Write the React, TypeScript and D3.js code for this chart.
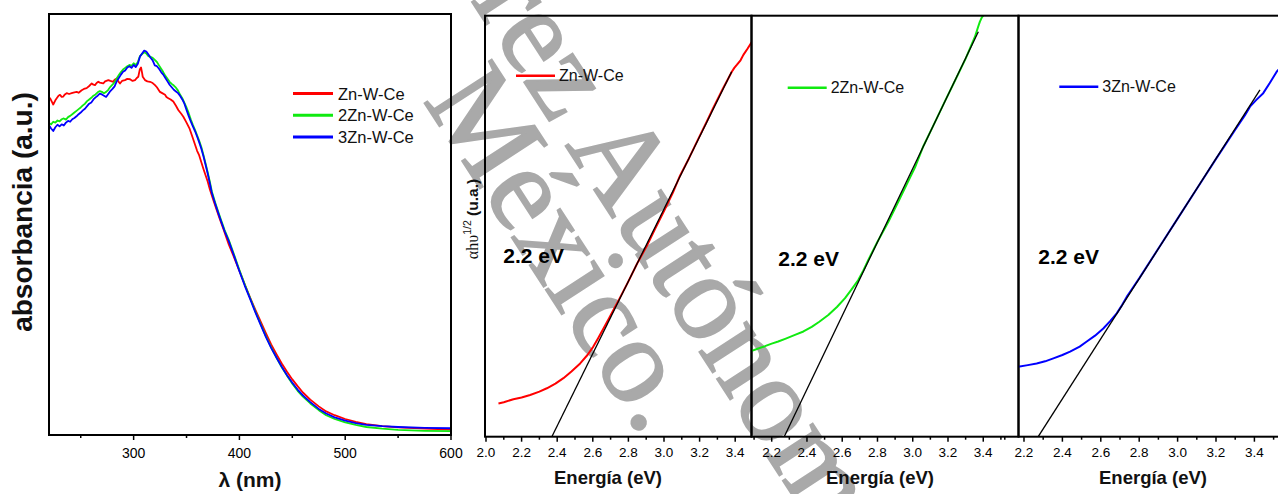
import React, { useEffect } from 'react';
import * as d3 from 'd3';

const W = 1278;
const H = 494;

// UV-Vis diffuse reflectance absorbance: [wavelength (nm), absorbance (a.u.)]
const absZnWCe: [number, number][] = [
  [220, 0.8], [221, 0.8], [223, 0.79], [224, 0.785], [226, 0.795], [227.3, 0.8], [229, 0.806], [230.4, 0.808],
  [232, 0.803], [233.5, 0.804], [235, 0.809], [236.7, 0.812], [239, 0.81], [241.4, 0.812], [244, 0.814],
  [246.2, 0.815], [248, 0.813], [250.9, 0.819], [253, 0.822], [255.6, 0.824], [258, 0.829], [260.4, 0.835],
  [262, 0.832], [263.5, 0.831], [265, 0.836], [266.6, 0.839], [268, 0.837], [271.3, 0.835], [273, 0.84],
  [276.1, 0.843], [278, 0.841], [280.8, 0.839], [282, 0.844], [284, 0.847], [285.5, 0.84], [287.1, 0.835],
  [289, 0.841], [291.8, 0.843], [294, 0.846], [296.6, 0.845], [299, 0.841], [301.3, 0.843], [303, 0.848],
  [304.4, 0.851], [305.8, 0.868], [307, 0.873], [308, 0.86], [308.6, 0.851], [310.7, 0.843], [313, 0.84],
  [315.5, 0.839], [318, 0.836], [320.2, 0.831], [322, 0.826], [324.9, 0.815], [327, 0.812], [329.7, 0.808],
  [331, 0.803], [332.8, 0.8], [335, 0.797], [337.5, 0.792], [340, 0.782], [342.2, 0.772], [345, 0.763],
  [347, 0.756], [350, 0.742], [353, 0.727], [356, 0.705], [358, 0.69], [360, 0.675], [362, 0.664], [364, 0.648],
  [366, 0.632], [368, 0.617], [370, 0.602], [372, 0.584], [375.3, 0.558], [378, 0.538], [381, 0.516],
  [385, 0.488], [390, 0.452], [394, 0.428], [400, 0.39], [405, 0.358], [410, 0.327], [415, 0.298], [420, 0.27],
  [425, 0.242], [430, 0.215], [435, 0.192], [440, 0.17], [445, 0.15], [450, 0.132], [455, 0.116], [460, 0.101],
  [467, 0.084], [475, 0.068], [482, 0.056], [490, 0.047], [500, 0.038], [510, 0.031], [520, 0.026],
  [535, 0.021], [550, 0.018], [575, 0.015], [600, 0.013],
];

const abs2ZnWCe: [number, number][] = [
  [220, 0.741], [222, 0.738], [224, 0.744], [226, 0.742], [228, 0.747], [230, 0.745], [232, 0.75], [234, 0.752],
  [236, 0.749], [238, 0.755], [240, 0.758], [242, 0.762], [244, 0.766], [246, 0.77], [248, 0.774], [250, 0.778],
  [252, 0.783], [254, 0.787], [256, 0.793], [258, 0.797], [260, 0.801], [262, 0.806], [264, 0.809], [266, 0.814],
  [268, 0.817], [270, 0.815], [272, 0.812], [274, 0.815], [276, 0.82], [278, 0.827], [280, 0.832], [282, 0.838],
  [284, 0.847], [286, 0.855], [288, 0.862], [290, 0.868], [292, 0.872], [294, 0.876], [296, 0.879], [298, 0.877],
  [300, 0.883], [302, 0.879], [304, 0.886], [306, 0.9], [308, 0.905], [310, 0.909], [312, 0.906], [314, 0.9],
  [316, 0.898], [318, 0.896], [320, 0.891], [322, 0.886], [324, 0.878], [326, 0.87], [328, 0.862], [330, 0.853],
  [332, 0.846], [334, 0.839], [336, 0.834], [338, 0.83], [340, 0.825], [342, 0.818], [344, 0.808], [346, 0.8],
  [348, 0.789], [350, 0.778], [352, 0.765], [354, 0.75], [356, 0.737], [358, 0.725], [360, 0.712], [362, 0.699],
  [364, 0.684], [366, 0.665], [368, 0.645], [370, 0.624], [372, 0.602], [374, 0.578], [377, 0.553], [380, 0.53],
  [383, 0.508], [386, 0.487], [390, 0.463], [395, 0.428], [400, 0.392], [405, 0.358], [410, 0.326], [415, 0.294],
  [420, 0.264], [425, 0.235], [430, 0.208], [435, 0.184], [440, 0.161], [445, 0.141], [450, 0.122], [455, 0.105],
  [460, 0.091], [467, 0.075], [475, 0.059], [482, 0.047], [490, 0.038], [500, 0.03], [510, 0.024], [520, 0.019],
  [535, 0.015], [550, 0.012], [575, 0.01], [600, 0.009],
];

const abs3ZnWCe: [number, number][] = [
  [220, 0.736], [222, 0.728], [224, 0.722], [226, 0.731], [228, 0.737], [230, 0.733], [232, 0.738], [234, 0.735],
  [236, 0.742], [238, 0.746], [240, 0.744], [242, 0.75], [244, 0.753], [246, 0.757], [248, 0.762], [250, 0.766],
  [252, 0.771], [254, 0.775], [256, 0.781], [258, 0.787], [260, 0.79], [262, 0.797], [264, 0.802], [266, 0.806],
  [268, 0.811], [270, 0.809], [272, 0.806], [274, 0.803], [276, 0.81], [278, 0.817], [280, 0.822], [282, 0.828],
  [284, 0.84], [286, 0.848], [288, 0.856], [290, 0.863], [292, 0.866], [294, 0.873], [296, 0.876], [298, 0.872],
  [300, 0.879], [302, 0.874], [304, 0.882], [306, 0.899], [308, 0.906], [310, 0.913], [312, 0.911], [314, 0.904],
  [316, 0.896], [318, 0.89], [320, 0.878], [322, 0.876], [324, 0.87], [326, 0.862], [328, 0.856], [330, 0.848],
  [332, 0.84], [334, 0.832], [336, 0.826], [338, 0.82], [340, 0.816], [342, 0.812], [344, 0.805], [346, 0.797],
  [348, 0.787], [350, 0.772], [352, 0.758], [354, 0.745], [356, 0.733], [358, 0.722], [360, 0.709], [362, 0.695],
  [364, 0.68], [366, 0.662], [368, 0.642], [370, 0.621], [372, 0.598], [374, 0.574], [377, 0.55], [380, 0.527],
  [383, 0.505], [386, 0.484], [390, 0.46], [395, 0.425], [400, 0.389], [405, 0.355], [410, 0.324], [415, 0.292],
  [420, 0.262], [425, 0.233], [430, 0.207], [435, 0.184], [440, 0.162], [445, 0.142], [450, 0.124], [455, 0.108],
  [460, 0.094], [467, 0.078], [475, 0.062], [482, 0.051], [490, 0.042], [500, 0.034], [510, 0.028], [520, 0.024],
  [535, 0.021], [550, 0.019], [575, 0.017], [600, 0.016],
];

const seriesNames = ['Zn-W-Ce', '2Zn-W-Ce', '3Zn-W-Ce'];
const seriesColors = ['#ff0000', '#10ea10', '#0000ff'];

const wavelengthTicks = [300, 400, 500, 600];
const wavelengthMinorTicks = [250, 350, 450, 550];

// Tauc plots: [photon energy (eV), (alpha h nu)^1/2 (a.u.)]
const taucZnWCe: [number, number][] = [
  [2.07, 0.079], [2.1, 0.082], [2.154, 0.089], [2.2, 0.093], [2.248, 0.099], [2.3, 0.107], [2.342, 0.115],
  [2.39, 0.126], [2.435, 0.139], [2.48, 0.155], [2.529, 0.174], [2.57, 0.194], [2.603, 0.214], [2.63, 0.234],
  [2.66, 0.257], [2.69, 0.28], [2.716, 0.301], [2.75, 0.328], [2.8, 0.369], [2.85, 0.412], [2.903, 0.453],
  [2.95, 0.494], [3.0, 0.536], [3.05, 0.58], [3.09, 0.62], [3.14, 0.661], [3.19, 0.705], [3.24, 0.748],
  [3.278, 0.782], [3.33, 0.826], [3.381, 0.867], [3.395, 0.876], [3.409, 0.883], [3.43, 0.894], [3.446, 0.907],
  [3.47, 0.922], [3.494, 0.938],
];
const tauc2ZnWCe: [number, number][] = [
  [2.087, 0.204], [2.12, 0.209], [2.162, 0.215], [2.2, 0.221], [2.237, 0.226], [2.28, 0.233], [2.332, 0.242],
  [2.38, 0.25], [2.427, 0.261], [2.47, 0.273], [2.521, 0.289], [2.57, 0.308], [2.616, 0.329], [2.65, 0.348],
  [2.691, 0.372], [2.72, 0.395], [2.748, 0.42], [2.8, 0.463], [2.861, 0.51], [2.92, 0.56], [2.97, 0.603],
  [3.013, 0.64], [3.06, 0.69], [3.12, 0.742], [3.183, 0.797], [3.24, 0.846], [3.3, 0.898], [3.353, 0.95],
  [3.362, 0.962], [3.372, 0.975], [3.381, 0.986], [3.392, 0.996], [3.4, 1.0],
];
const tauc3ZnWCe: [number, number][] = [
  [2.17, 0.166], [2.22, 0.17], [2.266, 0.174], [2.31, 0.179], [2.353, 0.186], [2.4, 0.194], [2.44, 0.202],
  [2.49, 0.214], [2.527, 0.226], [2.57, 0.24], [2.613, 0.257], [2.65, 0.275], [2.683, 0.293], [2.71, 0.312],
  [2.735, 0.332], [2.76, 0.349], [2.8, 0.376], [2.9, 0.447], [3.0, 0.518], [3.1, 0.589], [3.2, 0.66],
  [3.3, 0.729], [3.35, 0.763], [3.377, 0.784], [3.41, 0.8], [3.446, 0.816], [3.48, 0.84], [3.516, 0.867],
  [3.53, 0.874],
];

// Linear fits of the absorption edge
const fitZnWCe: [number, number][] = [[2.37, 0], [3.38, 0.867]];
const fit2ZnWCe: [number, number][] = [[2.271, 0], [3.372, 0.962]];
const fit3ZnWCe: [number, number][] = [[2.274, 0], [3.429, 0.824]];

const bandGapLabels = ['2.2 eV', '2.2 eV', '2.2 eV'];

const energyTicksA = [2.0, 2.2, 2.4, 2.6, 2.8, 3.0, 3.2, 3.4];
const energyMinorA = [2.1, 2.3, 2.5, 2.7, 2.9, 3.1, 3.3];
const energyTicksB = [2.2, 2.4, 2.6, 2.8, 3.0, 3.2, 3.4];
const energyMinorB = [2.1, 2.3, 2.5, 2.7, 2.9, 3.1, 3.3, 3.5];

const SANS = '"Liberation Sans", Arial, Helvetica, sans-serif';
const SERIF = '"Liberation Serif", "Times New Roman", serif';

function AbsorbancePanel() {
  const x = d3.scaleLinear().domain([220, 600]).range([49, 451]);
  const y = d3.scaleLinear().domain([0, 1]).range([435, 14]);
  const line = d3.line<[number, number]>().x((d) => x(d[0])).y((d) => y(d[1]));
  const series = [absZnWCe, abs2ZnWCe, abs3ZnWCe];
  return (
    <g>
      <defs>
        <clipPath id="clip-abs">
          <rect x={49} y={14} width={402} height={421} />
        </clipPath>
      </defs>
      <g clipPath="url(#clip-abs)">
        {series.map((s, i) => (
          <path key={i} d={line(s) || ''} fill="none" stroke={seriesColors[i]} strokeWidth={1.8} strokeLinejoin="round" />
        ))}
      </g>
      <rect x={49} y={14} width={402} height={421} fill="none" stroke="#000" strokeWidth={2} />
      {wavelengthTicks.map((t) => (
        <g key={t}>
          <line x1={x(t)} x2={x(t)} y1={435} y2={440} stroke="#000" strokeWidth={1.5} />
          <text x={x(t)} y={458} textAnchor="middle" fontFamily={SANS} fontSize={14} fill="#000">{t}</text>
        </g>
      ))}
      {wavelengthMinorTicks.map((t) => (
        <line key={t} x1={x(t)} x2={x(t)} y1={435} y2={438} stroke="#000" strokeWidth={1.5} />
      ))}
      {seriesNames.map((n, i) => (
        <g key={n}>
          <line x1={293} x2={333} y1={93.5 + i * 21.7} y2={93.5 + i * 21.7} stroke={seriesColors[i]} strokeWidth={3} />
          <text x={338} y={99.5 + i * 21.7} fontFamily={SANS} fontSize={16.5} fill="#111">{n}</text>
        </g>
      ))}
      <text x={250} y={487} textAnchor="middle" fontFamily={SANS} fontWeight="bold" fontSize={21} fill="#111">λ (nm)</text>
      <text transform="translate(32,212) rotate(-90)" textAnchor="middle" fontFamily={SANS} fontWeight="bold" fontSize={28} fill="#111">
        absorbancia (a.u.)
      </text>
    </g>
  );
}

type TaucPanelProps = {
  id: string;
  data: [number, number][];
  fit: [number, number][];
  color: string;
  name: string;
  gap: string;
  domain: [number, number];
  left: number;
  right: number;
  majors: number[];
  minors: number[];
  legendX: number;
  legendY: number;
  gapX: number;
  gapY: number;
  titleX: number;
};

function TaucPanel(p: TaucPanelProps) {
  const top = 15.7;
  const bottom = 436.7;
  const x = d3.scaleLinear().domain(p.domain).range([p.left, p.right]);
  const y = d3.scaleLinear().domain([0, 1]).range([bottom, top]);
  const line = d3.line<[number, number]>().x((d) => x(d[0])).y((d) => y(d[1]));
  return (
    <g>
      <defs>
        <clipPath id={p.id}>
          <rect x={p.left} y={top} width={p.right - p.left} height={bottom - top} />
        </clipPath>
      </defs>
      <g clipPath={`url(#${p.id})`}>
        <path d={line(p.data) || ''} fill="none" stroke={p.color} strokeWidth={2} strokeLinejoin="round" />
        <path d={line(p.fit) || ''} fill="none" stroke="#000" strokeWidth={1.3} />
      </g>
      <rect x={p.left} y={top} width={p.right - p.left} height={bottom - top} fill="none" stroke="#000" strokeWidth={2} />
      {p.majors.map((t) => (
        <g key={t}>
          <line x1={x(t)} x2={x(t)} y1={bottom} y2={bottom + 5} stroke="#000" strokeWidth={1.5} />
          <text x={x(t)} y={457} textAnchor="middle" fontFamily={SANS} fontSize={13.5} fill="#000">{t.toFixed(1)}</text>
        </g>
      ))}
      {p.minors.map((t) => (
        <line key={t} x1={x(t)} x2={x(t)} y1={bottom} y2={bottom + 3} stroke="#000" strokeWidth={1.5} />
      ))}
      <line x1={p.legendX} x2={p.legendX + 39} y1={p.legendY} y2={p.legendY} stroke={p.color} strokeWidth={2.5} />
      <text x={p.legendX + 43} y={p.legendY + 5.5} fontFamily={SANS} fontSize={16} fill="#111">{p.name}</text>
      <text x={p.gapX} y={p.gapY} fontFamily={SANS} fontWeight="bold" fontSize={21} fill="#000">{p.gap}</text>
      <text x={p.titleX} y={484} textAnchor="middle" fontFamily={SANS} fontWeight="bold" fontSize={18.5} fill="#111">Energía (eV)</text>
    </g>
  );
}

// Institutional watermark, drawn beneath the plots
function Watermark() {
  return (
    <g fill="#a9a9a9" stroke="#a9a9a9" strokeWidth={2} fontFamily={SERIF} fontSize={122}>
      <g transform="translate(565,145) rotate(57)">
        <text x={-24} y={0} textAnchor="end">Universidad Juárez</text>
        <text x={0} y={0}>Autónoma de Tabasco.</text>
        <text x={-115} y={95}>México.</text>
      </g>
    </g>
  );
}

export default function App() {
  useEffect(() => {
    document.body.style.margin = '0';
  }, []);
  return (
    <svg width={W} height={H} viewBox={`0 0 ${W} ${H}`} style={{ display: 'block', position: 'absolute', left: 0, top: 0 }}>
      <rect x={0} y={0} width={W} height={H} fill="#fff" />
      <Watermark />
      <AbsorbancePanel />
      <TaucPanel
        id="clip-t1" data={taucZnWCe} fit={fitZnWCe} color={seriesColors[0]} name={seriesNames[0]} gap={bandGapLabels[0]}
        domain={[1.9944, 3.4916]} left={485} right={751.5} majors={energyTicksA} minors={energyMinorA}
        legendX={516} legendY={75.7} gapX={503.3} gapY={263.3} titleX={608}
      />
      <TaucPanel
        id="clip-t2" data={tauc2ZnWCe} fit={fit2ZnWCe} color={seriesColors[1]} name={seriesNames[1]} gap={bandGapLabels[1]}
        domain={[2.0854, 3.5999]} left={751.5} right={1018.5} majors={energyTicksB} minors={energyMinorB}
        legendX={787.7} legendY={87.7} gapX={778.3} gapY={265.7} titleX={880}
      />
      <TaucPanel
        id="clip-t3" data={tauc3ZnWCe} fit={fit3ZnWCe} color={seriesColors[2]} name={seriesNames[2]} gap={bandGapLabels[2]}
        domain={[2.1714, 3.5333]} left={1018.5} right={1280} majors={energyTicksB} minors={energyMinorB}
        legendX={1059.3} legendY={86.7} gapX={1038.3} gapY={264} titleX={1153}
      />
      <text transform="translate(478,219) rotate(-90)" textAnchor="middle" fill="#111">
        <tspan fontFamily={SERIF} fontSize={16}>αhυ</tspan>
        <tspan fontFamily={SANS} fontSize={10.5} dy={-7}>1/2</tspan>
        <tspan fontFamily={SANS} fontSize={15.5} fontWeight="bold" dy={7}> (u.a.)</tspan>
      </text>
    </svg>
  );
}
